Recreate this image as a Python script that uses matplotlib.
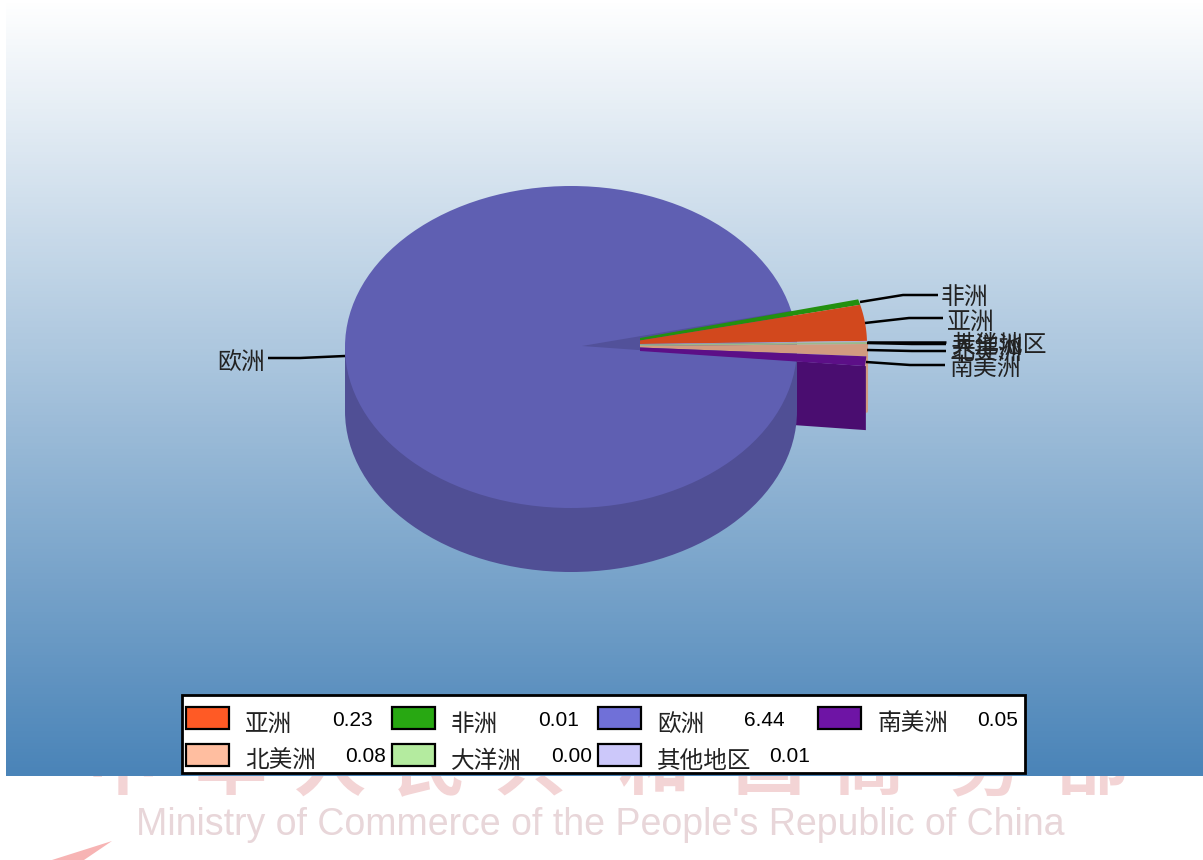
import numpy as np
import matplotlib
matplotlib.use("Agg")
import matplotlib.pyplot as plt
from matplotlib.colors import LinearSegmentedColormap
from matplotlib.patches import Ellipse, Polygon, Rectangle

plt.rcParams["font.family"] = ["Noto Sans CJK SC", "DejaVu Sans"]

regions = ["亚洲", "非洲", "欧洲", "南美洲", "北美洲", "大洋洲", "其他地区"]
legend_values = ["0.23", "0.01", "6.44", "0.05", "0.08", "0.00", "0.01"]

# slice widths in degrees, measured on the drawn pie (legend rounds them differently)
small_regions = ["亚洲", "非洲", "南美洲", "北美洲", "大洋洲", "其他地区"]
small_degrees = [13.0, 2.0, 3.5, 4.4, 0.7, 0.4]

swatch_colors = ["#ff5a25", "#28a812", "#7070d8", "#6e14a5", "#ffbea0", "#b4eb9f", "#ccc8fa"]
top_colors = {"亚洲": "#d2481d", "非洲": "#23900f", "南美洲": "#5c0f87",
              "北美洲": "#d19b80", "大洋洲": "#9cb98a", "其他地区": "#b0a9cc"}

# picture geometry, pixels
W, H = 1203, 860
CX, CY, RX, RY, DEPTH = 571, 347, 226, 161, 64
EX_CX, EX_CY, EX_RX, EX_RY = 641, 344, 226, 161
APEX = (582, 346)
INNER_X = 640
# thickness of each slice on the cut at x=640, top to bottom
inner_order = ["非洲", "亚洲", "其他地区", "大洋洲", "北美洲", "南美洲"]
inner_px = [2.5, 3.5, 0.5, 1.5, 1.5, 3.5]
INNER_TOP = 338


def rim(deg):
    a = np.radians(deg)
    return EX_CX + EX_RX * np.cos(a), EX_CY - EX_RY * np.sin(a)


fig = plt.figure(figsize=(W / 100, H / 100), dpi=100, facecolor="white")
ax = fig.add_axes([0, 0, 1, 1])
ax.set_xlim(0, W)
ax.set_ylim(H, 0)
ax.axis("off")

# watermark, the gradient panel covers its upper part
for ch, x in zip("中华人民共和国商务部", [123, 231, 330, 430, 530, 654, 769, 869, 985, 1092]):
    ax.text(x, 768, ch, fontsize=52, fontweight="bold", color="#f3d4d5", ha="center", va="center", zorder=1)
ax.text(600, 825, "Ministry of Commerce of the People's Republic of China",
        fontsize=27, family="Liberation Sans", color="#e8d6d9", ha="center", va="center", zorder=1)
ax.add_patch(Polygon([(52, 860), (112, 841), (84, 860)], fc="#f7b4b4", ec="none", zorder=1))

# background gradient
cmap = LinearSegmentedColormap.from_list("bg", ["#ffffff", "#4a84b8"])
ax.imshow(np.linspace(0, 1, 256).reshape(-1, 1), cmap=cmap, aspect="auto",
          extent=(6, W, 776, 0), zorder=2)
ax.set_xlim(0, W)
ax.set_ylim(H, 0)

# slice boundaries, counter-clockwise from just above horizontal
angles = {}
start = 1.1
for name, deg in zip(small_regions[:2], small_degrees[:2]):
    angles[name] = (start, start + deg)
    start += deg
end = 1.1
for name, deg in zip(small_regions[:1:-1], small_degrees[:1:-1]):
    angles[name] = (end - deg, end)
    end -= deg

# outer wall of the north america slice, only a strip of it shows
a0, a1 = angles["北美洲"]
top = [rim(d) for d in np.linspace(a0, a1, 12)]
ax.add_patch(Polygon(top + [(x, y + DEPTH - 8) for x, y in top[::-1]],
                     fc="#d19b80", ec="#d19b80", lw=1.5, zorder=3))

# cut wall of the south america slice
x0, y0 = rim(angles["南美洲"][0])
x1 = CX + RX - 5
y1 = APEX[1] + (y0 - APEX[1]) * (x1 - APEX[0]) / (x0 - APEX[0])
ax.add_patch(Polygon([(x1, y1), (x0 + 1, y0), (x0 + 1, y0 + DEPTH), (x1, y1 + DEPTH)],
                     fc="#4a0d70", ec="none", zorder=3.5))

# europe body
ax.add_patch(Ellipse((CX, CY + DEPTH), 2 * RX, 2 * RY, fc="#504f95", ec="none", zorder=4))
ax.add_patch(Rectangle((CX - RX, CY), 2 * RX, DEPTH, fc="#504f95", ec="none", zorder=4))
top_face = Ellipse((CX, CY), 2 * RX, 2 * RY, fc="#5f5fb2", ec="none", zorder=5)
ax.add_patch(top_face)

# dark notch left in europe by the pulled-out slices
notch = Polygon([APEX, rim(angles["非洲"][1]), rim(angles["南美洲"][0])],
                fc="#52519a", ec="none", zorder=6)
ax.add_patch(notch)
notch.set_clip_path(top_face)

# pulled-out slices, stacked on the cut at x=640
inner_y = INNER_TOP
for name, px in zip(inner_order, inner_px):
    a0, a1 = angles[name]
    arc = [rim(d) for d in np.linspace(a1, a0, 20)]
    ax.add_patch(Polygon([(INNER_X, inner_y)] + arc + [(INNER_X, inner_y + px)],
                         fc=top_colors[name], ec="none", zorder=7))
    inner_y += px

# labels with leader lines
label_pos = {"非洲": (941, 297), "亚洲": (947, 322), "其他地区": (952, 345),
             "大洋洲": (952, 346), "北美洲": (950, 352), "南美洲": (950, 368), "欧洲": (217, 362)}
leaders = {"非洲": [(860, 302), (903, 295), (938, 295)],
           "亚洲": [(865, 323), (909, 318), (943, 318)],
           "其他地区": [(867, 342), (912, 342), (946, 342)],
           "大洋洲": [(867, 343), (912, 344), (946, 344)],
           "北美洲": [(867, 350), (912, 351), (946, 351)],
           "南美洲": [(866, 362), (910, 365), (945, 365)],
           "欧洲": [(268, 358), (300, 358), (345, 356)]}
for name in regions:
    xs, ys = zip(*leaders[name])
    ax.plot(xs, ys, color="black", lw=1.8, zorder=8, solid_capstyle="butt")
    ax.text(*label_pos[name], name, fontsize=17.2, color="#222222", ha="left", va="center", zorder=9)

# legend box
ax.add_patch(Rectangle((182, 695), 843, 78, fc="white", ec="black", lw=2, zorder=10))
swatch_x = [186, 392, 598, 818, 186, 392, 598]
swatch_y = [707, 707, 707, 707, 744, 744, 744]
name_x = [245, 451, 657, 878, 245, 451, 657]
value_x = [332, 538, 744, 977, 345, 551, 769]
for i, name in enumerate(regions):
    ax.add_patch(Rectangle((swatch_x[i], swatch_y[i]), 43, 22, fc=swatch_colors[i],
                           ec="black", lw=1.6, zorder=11))
    ax.text(name_x[i], swatch_y[i] + 17, name, fontsize=17, color="#222222", ha="left", va="center", zorder=11)
    ax.text(value_x[i], swatch_y[i] + 13, legend_values[i], fontsize=15, family="Liberation Sans",
            color="black", ha="left", va="center", zorder=11)

fig.savefig("out.png", dpi=100)
